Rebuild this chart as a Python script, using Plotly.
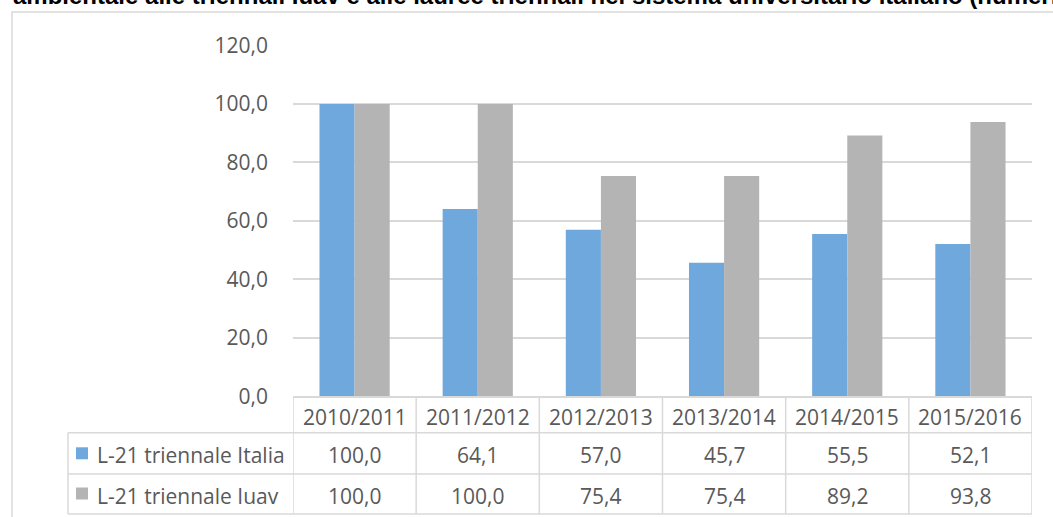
import plotly.graph_objects as go

# ---- data ----
categories = ["2010/2011", "2011/2012", "2012/2013", "2013/2014", "2014/2015", "2015/2016"]
italia = [100.0, 64.1, 57.0, 45.7, 55.5, 52.1]
iuav = [100.0, 100.0, 75.4, 75.4, 89.2, 93.8]
series_names = ["L-21 triennale Italia", "L-21 triennale Iuav"]
y_ticks = [0, 20, 40, 60, 80, 100, 120]
title_text = ("ambientale alle triennali Iuav e alle lauree triennali nel sistema "
              "universitario italiano (numeri indice)")

# ---- styling ----
W, H = 1053, 517
BLUE = "#6FA8DC"
GRAY = "#B4B4B4"
LINE = "#D9D9D9"
TXT = "#595959"
FONT = "Open Sans"


def fx(x):
    return x / W


def fy(y):
    return 1 - y / H


def fmt(v):
    return f"{v:.1f}".replace(".", ",")


PLOT_L, PLOT_R = 293, 1032
PLOT_T, PLOT_B = 45.5, 396.3
ROW1_T, ROW2_T, TBL_B = 432.7, 474.0, 514.0
TBL_L = 68

fig = go.Figure()
colors = [BLUE, GRAY]
for name, vals, col in zip(series_names, [italia, iuav], colors):
    fig.add_bar(x=categories, y=vals, name=name, marker_color=col,
                marker_line_width=0)

fig.update_layout(
    width=W, height=H,
    margin=dict(l=0, r=0, t=0, b=0, pad=0, autoexpand=False),
    barmode="group", bargap=0.43, bargroupgap=0,
    showlegend=False,
    plot_bgcolor="white", paper_bgcolor="white",
    font=dict(family=FONT, color=TXT, size=21),
)
fig.update_xaxes(domain=[fx(PLOT_L), fx(PLOT_R)], range=[-0.5, len(categories) - 0.5],
                 showticklabels=False, showgrid=False, zeroline=False, automargin=False,
                 showline=True, linecolor=LINE, linewidth=1.5, ticks="")
fig.update_yaxes(domain=[fy(PLOT_B), fy(PLOT_T)], range=[0, 120], automargin=False,
                 tickvals=y_ticks, ticktext=[fmt(v) for v in y_ticks],
                 showgrid=True, gridcolor=LINE, gridwidth=1.5, zeroline=False,
                 showline=False, ticks="", ticklabelstandoff=24,
                 tickfont=dict(family=FONT, color=TXT, size=21))

shapes = []
# frame
shapes.append(dict(type="path", xref="paper", yref="paper",
                   path=f"M {fx(12)},{fy(520)} L {fx(12)},{fy(12)} L {fx(1056)},{fy(12)}",
                   line=dict(color=LINE, width=1.5)))
# table horizontal lines
for yy in [ROW1_T, ROW2_T, TBL_B]:
    shapes.append(dict(type="line", xref="paper", yref="paper",
                       x0=fx(TBL_L), x1=fx(PLOT_R), y0=fy(yy), y1=fy(yy),
                       line=dict(color=LINE, width=1.5)))
# table vertical lines
shapes.append(dict(type="line", xref="paper", yref="paper",
                   x0=fx(TBL_L), x1=fx(TBL_L), y0=fy(ROW1_T), y1=fy(TBL_B),
                   line=dict(color=LINE, width=1.5)))
for i in range(len(categories) + 1):
    shapes.append(dict(type="line", xref="x", yref="paper",
                       x0=i - 0.5, x1=i - 0.5, y0=fy(PLOT_B), y1=fy(TBL_B),
                       line=dict(color=LINE, width=1.5)))
# legend keys
for r, col in enumerate(colors):
    cy = [453.3, 493.5][r]
    shapes.append(dict(type="rect", xref="paper", yref="paper",
                       x0=fx(76), x1=fx(88), y0=fy(cy - 6), y1=fy(cy + 6),
                       fillcolor=col, line=dict(width=0)))

annotations = []
# title (clipped at top, as in the reference)
annotations.append(dict(text=f"<b>{title_text}</b>", xref="paper", yref="paper",
                        x=fx(11), y=fy(11.5), xanchor="left", yanchor="bottom",
                        showarrow=False,
                        font=dict(family="Liberation Sans, Arial",
                                  size=24, color="#000000")))
# header row
hdr_c = (PLOT_B + ROW1_T) / 2 + 2
for i, c in enumerate(categories):
    annotations.append(dict(text=c, xref="x", yref="paper", x=i, y=fy(hdr_c),
                            xanchor="center", yanchor="middle", showarrow=False))
# data rows
row_c = [(ROW1_T + ROW2_T) / 2 + 2, (ROW2_T + TBL_B) / 2 + 2]
for r, (name, vals) in enumerate(zip(series_names, [italia, iuav])):
    annotations.append(dict(text=name, xref="paper", yref="paper", x=fx(95), y=fy(row_c[r]),
                            xanchor="left", yanchor="middle", showarrow=False))
    for i, v in enumerate(vals):
        annotations.append(dict(text=fmt(v), xref="x", yref="paper", x=i, y=fy(row_c[r]),
                                xanchor="center", yanchor="middle", showarrow=False))

fig.update_layout(shapes=shapes, annotations=annotations)
fig.write_html("out.html", config={"displayModeBar": False},
               post_script="document.body.style.margin='0';")
